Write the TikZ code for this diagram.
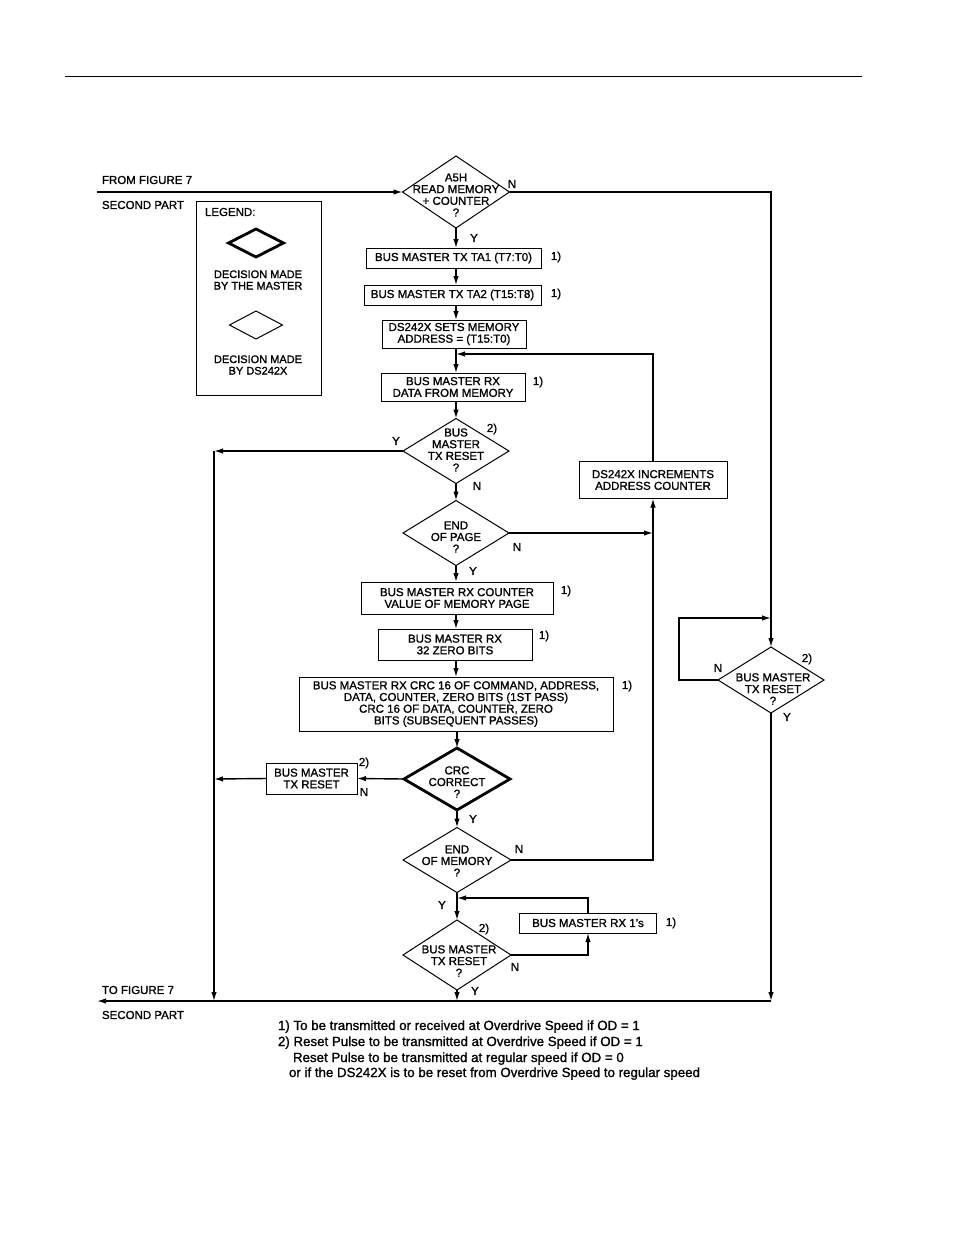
\documentclass[tikz,border=0pt]{standalone}
\usepackage{fontspec}
\setmainfont{Liberation Sans}[FakeBold=1.2]
\usetikzlibrary{shapes.geometric,arrows.meta}
\begin{document}
\begin{tikzpicture}[x=1pt,y=-1pt,
  every node/.style={inner sep=0pt, outer sep=0pt},
  txt/.style={font=\fontsize{11.5}{11.7}\selectfont, align=center},
  lbl/.style={font=\fontsize{11.5}{11.7}\selectfont},
  box/.style={draw, rectangle, line width=1pt, font=\fontsize{11.5}{11.7}\selectfont, align=center},
  dec/.style={draw, diamond, line width=1pt},
  decm/.style={draw, diamond, line width=2.8pt},
  conn/.style={line width=1.4pt},
  arr/.style={line width=1.4pt, -{Latex[length=9pt,width=5.5pt]}},
  foot/.style={font=\fontsize{13.3}{16}\selectfont, anchor=base west}
]
\useasboundingbox (0,0) rectangle (954,1235);
\fill[white] (0,0) rectangle (954,1235);

% top rule
\coordinate (ruleL) at (65,76);
\coordinate (ruleR) at (862,76);
\draw[line width=1pt] (ruleL) -- (ruleR);

% side labels
\node[lbl, anchor=west] (from1) at (102,180) {FROM FIGURE 7};
\node[lbl, anchor=west] (from2) at (102,205) {SECOND PART};
\node[lbl, anchor=west] (to1) at (102,990) {TO FIGURE 7};
\node[lbl, anchor=west] (to2) at (102,1015) {SECOND PART};

% legend
\node[draw, line width=1pt, minimum width=125pt, minimum height=194pt] (legend) at (258.5,298) {};
\node[lbl, anchor=west] (legt) at (205,212) {LEGEND:};
\node[decm, minimum width=55pt, minimum height=28pt] (legd1) at (256,243) {};
\node[txt, font=\fontsize{11}{11.5}\selectfont] (legt1) at (258,280) {DECISION MADE\\BY THE MASTER};
\node[dec, minimum width=53pt, minimum height=28pt] (legd2) at (256,325) {};
\node[txt, font=\fontsize{11}{11.5}\selectfont] (legt2) at (258,365) {DECISION MADE\\BY DS242X};

% main column
\node[dec, minimum width=107pt, minimum height=72pt] (d1) at (456,192) {};
\node[txt] (d1t) at (456,195) {A5H\\READ MEMORY\\+ COUNTER\\?};
\node[box, minimum width=175pt, minimum height=20pt] (b1) at (453.5,258) {BUS MASTER TX TA1 (T7:T0)};
\node[box, minimum width=177pt, minimum height=20pt] (b2) at (452.5,295) {BUS MASTER TX TA2 (T15:T8)};
\node[box, minimum width=144pt, minimum height=28pt] (b3) at (454,334) {DS242X SETS MEMORY\\ADDRESS = (T15:T0)};
\node[box, minimum width=144pt, minimum height=28pt] (b4) at (453,387) {BUS MASTER RX\\DATA FROM MEMORY};
\node[dec, minimum width=106pt, minimum height=65pt] (d2) at (456,451) {};
\node[txt] (d2t) at (456,450) {BUS\\MASTER\\TX RESET\\?};
\node[dec, minimum width=106pt, minimum height=65pt] (d3) at (456,533) {};
\node[txt] (d3t) at (456,537) {END\\OF PAGE\\?};
\node[box, minimum width=148pt, minimum height=37pt] (inc) at (653,480) {DS242X INCREMENTS\\ADDRESS COUNTER};
\node[box, minimum width=192pt, minimum height=32pt] (b5) at (457,598) {BUS MASTER RX COUNTER\\VALUE OF MEMORY PAGE};
\node[box, minimum width=154pt, minimum height=31pt] (b6) at (455,644.5) {BUS MASTER RX\\32 ZERO BITS};
\node[box, minimum width=314pt, minimum height=54pt] (b7) at (456,704) {BUS MASTER RX CRC 16 OF COMMAND, ADDRESS,\\DATA, COUNTER, ZERO BITS (1ST PASS)\\CRC 16 OF DATA, COUNTER, ZERO\\BITS (SUBSEQUENT PASSES)};
\node[decm, minimum width=106pt, minimum height=62pt] (d4) at (457,779) {};
\node[txt] (d4t) at (457,782) {CRC\\CORRECT\\?};
\node[box, minimum width=91pt, minimum height=31pt] (rst) at (311.5,778.5) {BUS MASTER\\TX RESET};
\node[dec, minimum width=108pt, minimum height=65pt] (d5) at (457,860) {};
\node[txt] (d5t) at (457,861) {END\\OF MEMORY\\?};
\node[dec, minimum width=108pt, minimum height=70pt] (d6) at (457,955) {};
\node[txt] (d6t) at (459,961) {BUS MASTER\\TX RESET\\?};
\node[box, minimum width=137pt, minimum height=20pt] (rx1) at (588,923) {BUS MASTER RX 1's};
\node[dec, minimum width=106pt, minimum height=66pt] (d7) at (771,680) {};
\node[txt] (d7t) at (773,689) {BUS MASTER\\TX RESET\\?};

% junction coordinates
\coordinate (inL) at (97,192);
\coordinate (j1) at (456,354);
\coordinate (jL) at (214,451);
\coordinate (bL) at (214,1001);
\coordinate (jR) at (653,533);
\coordinate (jC) at (214,779);
\coordinate (j6) at (457,898);
\coordinate (bM) at (457,1001);
\coordinate (bR) at (771,1001);
\coordinate (outL) at (97,1001);
\coordinate (l7) at (679,680);
\coordinate (j7) at (771,618);

% connectors
\draw[arr] (inL) -- (d1.west);
\draw[arr] (d1.east) -| (d7.north);
\draw[arr] (d1.south) -- (d1.south |- b1.north);
\draw[arr] (b1.south -| d1.south) -- (b2.north -| d1.south);
\draw[arr] (b2.south -| d1.south) -- (b3.north -| d1.south);
\draw[arr] (b3.south -| d1.south) -- (b4.north -| d1.south);
\draw[arr] (inc.north) |- (j1);
\draw[arr] (b4.south -| d1.south) -- (d2.north);
\draw[arr] (d2.west) -- (jL);
\draw[arr] (jL) -- (bL);
\draw[arr] (d2.south) -- (d3.north);
\draw[arr] (d3.east) -- (jR);
\draw[arr] (d5.east) -| (inc.south);
\draw[arr] (d3.south) -- (d3.south |- b5.north);
\draw[arr] (b5.south -| d3.south) -- (b6.north -| d3.south);
\draw[arr] (b6.south -| d3.south) -- (b7.north -| d3.south);
\draw[arr] (b7.south -| d4.north) -- (d4.north);
\draw[arr] (d4.west) -- (rst.east);
\draw[arr] (rst.west) -- (jC);
\draw[arr] (d4.south) -- (d5.north);
\draw[arr] (d5.south) -- (d6.north);
\draw[arr] (rx1.north) |- (j6);
\draw[arr] (d6.east) -| (rx1.south);
\draw[arr] (d6.south) -- (bM);
\draw[arr] (d7.west) -- (l7) |- (j7);
\draw[arr] (d7.south) -- (bR);
\draw[arr] (bR) -- (outL);

% Y / N / note labels
\node[lbl] (n1) at (512,184) {N};
\node[lbl] (y1) at (474,238) {Y};
\node[lbl] (f1) at (556,257) {1)};
\node[lbl] (f2) at (556,294) {1)};
\node[lbl] (f3) at (538,382) {1)};
\node[lbl] (f4) at (492,429) {2)};
\node[lbl] (y2) at (396,441) {Y};
\node[lbl] (n2) at (477,486) {N};
\node[lbl] (n3) at (517,547) {N};
\node[lbl] (y3) at (473,571) {Y};
\node[lbl] (f5) at (566,591) {1)};
\node[lbl] (f6) at (544,636) {1)};
\node[lbl] (f7) at (627,686) {1)};
\node[lbl] (f8) at (364,763) {2)};
\node[lbl] (n4) at (364,792) {N};
\node[lbl] (y4) at (473,819) {Y};
\node[lbl] (n5) at (519,849) {N};
\node[lbl] (y5) at (442,905) {Y};
\node[lbl] (f9) at (484,929) {2)};
\node[lbl] (n6) at (515,967) {N};
\node[lbl] (y6) at (475,991) {Y};
\node[lbl] (f10) at (671,923) {1)};
\node[lbl] (f11) at (807,659) {2)};
\node[lbl] (n7) at (718,668) {N};
\node[lbl] (y7) at (787,717) {Y};

% footnotes
\node[foot] (fn1) at (278,1030) {1) To be transmitted or received at Overdrive Speed if OD = 1};
\node[foot] (fn2) at (278,1046) {2) Reset Pulse to be transmitted at Overdrive Speed if OD = 1};
\node[foot] (fn3) at (293,1062) {Reset Pulse to be transmitted at regular speed if OD = 0};
\node[foot] (fn4) at (289,1077) {or if the DS242X is to be reset from Overdrive Speed to regular speed};
\end{tikzpicture}
\end{document}
